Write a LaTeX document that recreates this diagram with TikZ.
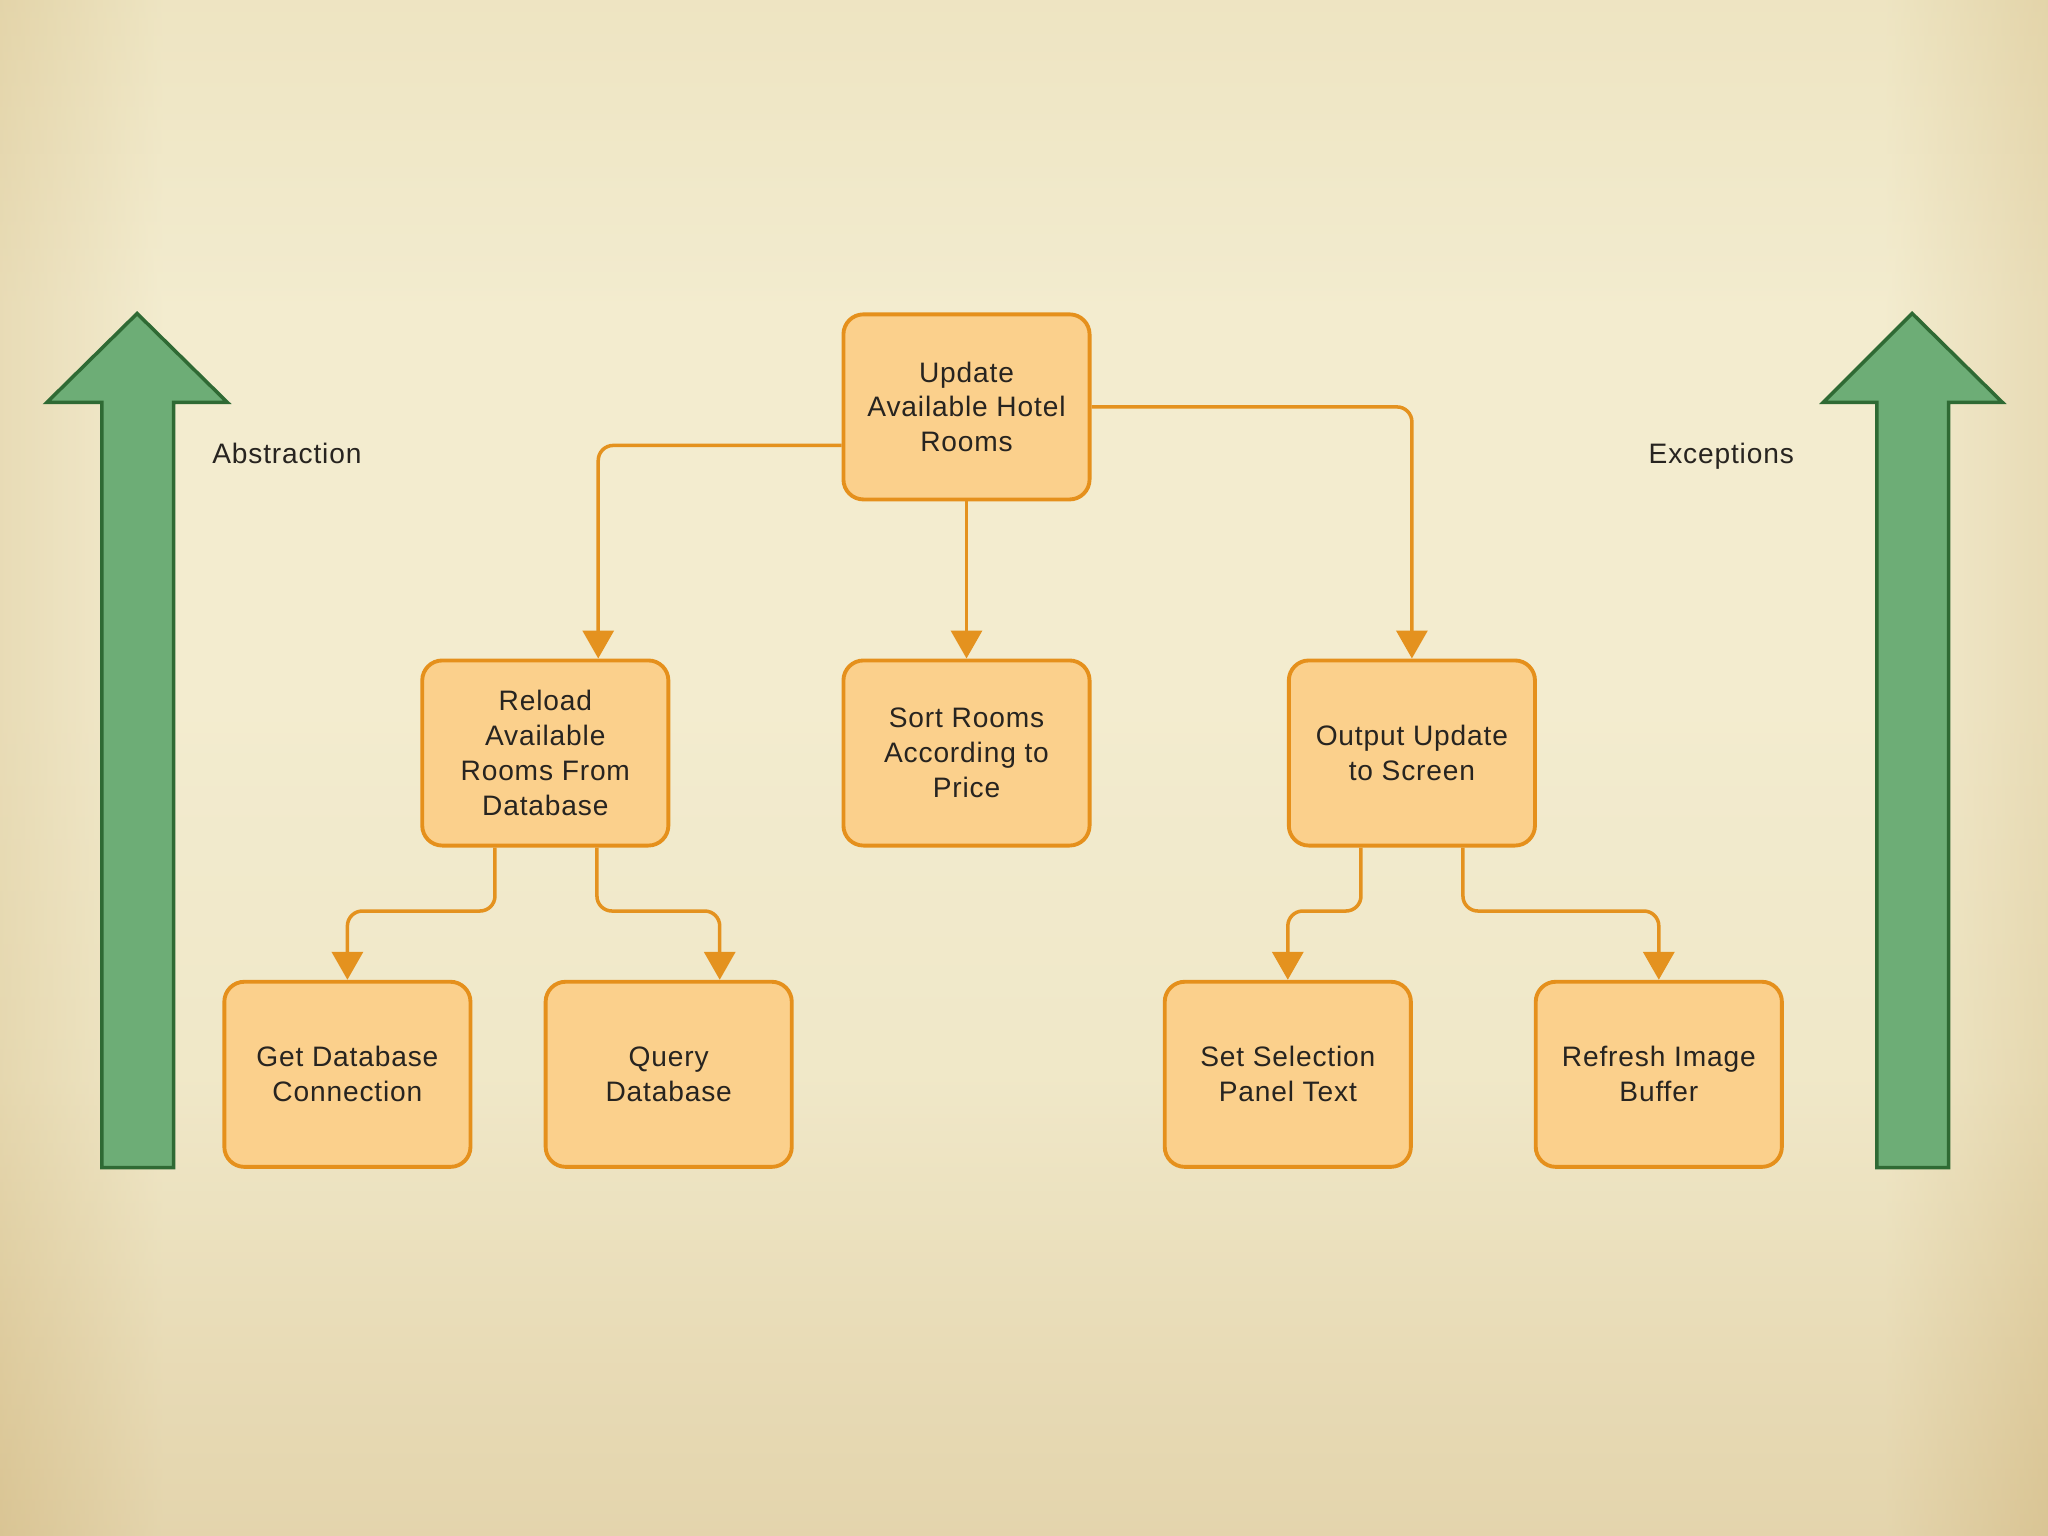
\documentclass[tikz,border=0pt]{standalone}
\usepackage{fontspec}
\setmainfont{Liberation Sans}[LetterSpace=3]
\usetikzlibrary{arrows.meta,calc}
\definecolor{bgtop}{HTML}{EADFB8}
\definecolor{bgmid}{HTML}{F3ECCF}
\definecolor{bgmid2}{HTML}{EEE5C3}
\definecolor{bgbot}{HTML}{D8C291}
\definecolor{bgedge}{HTML}{DCC898}
\definecolor{boxfill}{HTML}{FBD08C}
\definecolor{boxline}{HTML}{E5901C}
\definecolor{connline}{HTML}{E4921F}
\definecolor{greenfill}{HTML}{6DAD76}
\definecolor{greenline}{HTML}{2F6A34}
\definecolor{txt}{HTML}{272420}
\pgfdeclareverticalshading{parch}{100bp}{color(0bp)=(bgbot); color(25bp)=(bgbot); color(31bp)=(bgbot!65!bgmid2); color(40bp)=(bgmid2); color(52bp)=(bgmid); color(65bp)=(bgmid); color(75bp)=(bgtop); color(100bp)=(bgtop)}
\pgfdeclarehorizontalshading{parchedge}{100bp}{color(0bp)=(bgedge); color(25bp)=(bgedge); color(29bp)=(bgmid); color(71bp)=(bgmid); color(75bp)=(bgedge); color(100bp)=(bgedge)}
\tikzset{
  box/.style={draw=boxline, fill=boxfill, line width=1.1pt, rounded corners=0.2cm,
    minimum width=2.46cm, minimum height=1.85cm, inner sep=0pt, align=center,
    text=txt, font=\fontsize{8}{9.9}\selectfont},
  conn/.style={draw=connline, line width=1pt, rounded corners=0.15cm,
    -{Triangle[width=0.31cm,length=0.28cm]}},
  bigarrow/.style={draw=greenline, fill=greenfill, line width=1pt, line join=miter},
  lbl/.style={text=txt, inner sep=0pt, font=\fontsize{8}{9.9}\selectfont}
}
\begin{document}
\begin{tikzpicture}[x=0.01cm,y=-0.01cm]
\useasboundingbox (0,0) rectangle (2048,1536);
% background
\shade[shading=parch] (0,0) rectangle (2048,1536);
\shade[shading=parchedge, opacity=0.45] (0,0) rectangle (2048,1536);

% green arrows
\draw[bigarrow] (137.1,313.5) -- (227.3,402.3) -- (173.7,402.3) -- (173.7,1167.7)
  -- (101.9,1167.7) -- (101.9,402.3) -- (47.0,402.3) -- cycle;
\draw[bigarrow] (1912.2,313.5) -- (2002.3,402.3) -- (1948.7,402.3) -- (1948.7,1167.7)
  -- (1876.9,1167.7) -- (1876.9,402.3) -- (1823.3,402.3) -- cycle;

\node[lbl, anchor=base west] (abs) at (211.6,463.5) {Abstraction};
\node[lbl, anchor=base east] (exc) at (1794.6,463.5) {Exceptions};

% boxes
\node[box] (top) at (966.5,406.9) {Update\\Available Hotel\\Rooms};
\node[box] (reload) at (545.3,753.0) {Reload\\Available\\Rooms From\\Database};
\node[box] (sort) at (966.5,753.0) {Sort Rooms\\According to\\Price};
\node[box] (output) at (1411.9,753.0) {Output Update\\to Screen};
\node[box] (getdb) at (347.4,1074.3) {Get Database\\Connection};
\node[box] (query) at (668.7,1074.3) {Query\\Database};
\node[box] (setsel) at (1287.8,1074.3) {Set Selection\\Panel Text};
\node[box] (refresh) at (1658.8,1074.3) {Refresh Image\\Buffer};

% connectors
\draw[conn] ([yshift=-0.385cm]top.west) -| ([xshift=0.529cm]reload.north);
\draw[conn] (top.south) -- (sort.north);
\draw[conn] (top.east) -| (output.north);

\coordinate (a1) at ([xshift=-0.503cm]reload.south);
\coordinate (a2) at ([xshift=0.516cm]reload.south);
\coordinate (b1) at (getdb.north);
\coordinate (b2) at ([xshift=0.51cm]query.north);
\coordinate (m1) at ($(reload.south)!0.48!(getdb.north)$);
\draw[conn] (a1) -- (a1 |- m1) -- (b1 |- m1) -- (b1);
\draw[conn] (a2) -- (a2 |- m1) -- (b2 |- m1) -- (b2);

\coordinate (c1) at ([xshift=-0.509cm]output.south);
\coordinate (c2) at ([xshift=0.51cm]output.south);
\coordinate (m2) at ($(output.south)!0.48!(setsel.north)$);
\draw[conn] (c1) -- (c1 |- m2) -- (setsel.north |- m2) -- (setsel.north);
\draw[conn] (c2) -- (c2 |- m2) -- (refresh.north |- m2) -- (refresh.north);
\end{tikzpicture}
\end{document}
